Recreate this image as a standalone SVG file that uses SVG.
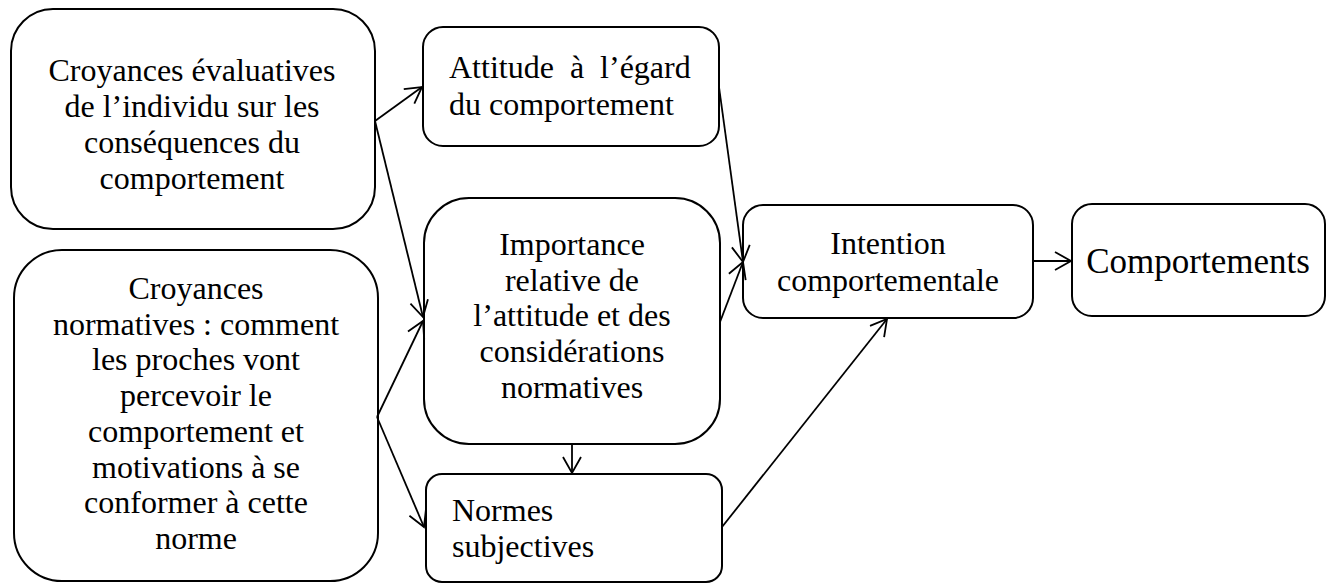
<svg xmlns="http://www.w3.org/2000/svg" width="1339" height="586" viewBox="0 0 1339 586">
<style>
.box{fill:#fff;stroke:#000;stroke-width:2}
.t{font-family:"Liberation Serif","Times New Roman",serif;font-size:32px;fill:#000}
.c{text-anchor:middle}
.e{fill:none;stroke:#000;stroke-width:1.8}
</style>
<defs>
<marker id="ah" markerUnits="userSpaceOnUse" markerWidth="20" markerHeight="22" refX="17" refY="10" orient="auto">
<path d="M1,1 L17,10 L1,19" fill="none" stroke="#000" stroke-width="1.8"/>
</marker>
</defs>
<rect width="1339" height="586" fill="#fff"/>
<g id="n1">
<rect class="box" x="11" y="9" width="364" height="220" rx="42"/>
<text class="t c"><tspan x="192" y="81">Croyances évaluatives</tspan><tspan x="192" y="117">de l’individu sur les</tspan><tspan x="192" y="153">conséquences du</tspan><tspan x="192" y="189">comportement</tspan></text>
</g>
<g id="n2">
<rect class="box" x="14" y="250" width="364" height="331" rx="48"/>
<text class="t c"><tspan x="196" y="299">Croyances</tspan><tspan x="196" y="334.7">normatives : comment</tspan><tspan x="196" y="370.4">les proches vont</tspan><tspan x="196" y="406">percevoir le</tspan><tspan x="196" y="441.8">comportement et</tspan><tspan x="196" y="477.5">motivations à se</tspan><tspan x="196" y="513">conformer à cette</tspan><tspan x="196" y="549">norme</tspan></text>
</g>
<g id="n3">
<rect class="box" x="423" y="27" width="296" height="119" rx="20"/>
<text class="t" word-spacing="8"><tspan x="449" y="78">Attitude à l’égard</tspan></text>
<text class="t"><tspan x="449" y="115">du comportement</tspan></text>
</g>
<g id="n4">
<rect class="box" x="424" y="198" width="296" height="246" rx="45"/>
<text class="t c"><tspan x="572" y="255">Importance</tspan><tspan x="572" y="290.5">relative de</tspan><tspan x="572" y="326">l’attitude et des</tspan><tspan x="572" y="362">considérations</tspan><tspan x="572" y="397.5">normatives</tspan></text>
</g>
<g id="n5">
<rect class="box" x="426" y="474" width="296" height="108" rx="16"/>
<text class="t"><tspan x="452" y="521">Normes</tspan><tspan x="452" y="557">subjectives</tspan></text>
</g>
<g id="n6">
<rect class="box" x="743" y="205" width="290" height="113" rx="20"/>
<text class="t c"><tspan x="888" y="254">Intention</tspan><tspan x="888" y="291">comportementale</tspan></text>
</g>
<g id="n7">
<rect class="box" x="1072" y="204" width="253" height="112" rx="20"/>
<text class="t c" style="font-size:35px"><tspan x="1198" y="273">Comportements</tspan></text>
</g>
<g id="connectors">
<line class="e" x1="375" y1="121" x2="422" y2="87" marker-end="url(#ah)"/>
<line class="e" x1="375" y1="121" x2="423" y2="317" marker-end="url(#ah)"/>
<line class="e" x1="377" y1="417" x2="423" y2="321" marker-end="url(#ah)"/>
<line class="e" x1="377" y1="417" x2="424" y2="527" marker-end="url(#ah)"/>
<line class="e" x1="572" y1="444" x2="572" y2="473" marker-end="url(#ah)"/>
<line class="e" x1="719" y1="87" x2="743" y2="262" marker-end="url(#ah)"/>
<line class="e" x1="720" y1="322" x2="743" y2="262" marker-end="url(#ah)"/>
<line class="e" x1="722" y1="527" x2="887" y2="319" marker-end="url(#ah)"/>
<line class="e" x1="1033" y1="261" x2="1071" y2="261" marker-end="url(#ah)"/>
</g>
</svg>
